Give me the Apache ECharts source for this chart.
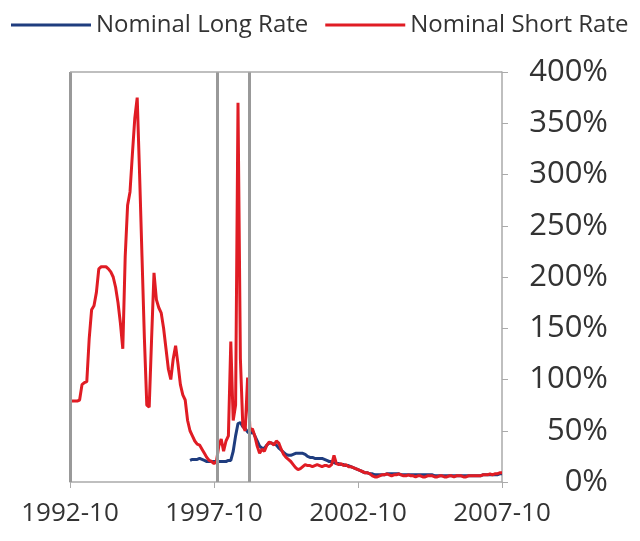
<!DOCTYPE html>
<html>
<head>
<meta charset="utf-8">
<script src="https://cdn.jsdelivr.net/npm/echarts@6/dist/echarts.min.js"></script>
<style>
html,body{margin:0;padding:0;background:#fff;}
#chart{width:640px;height:541px;}
</style>
</head>
<body>
<div id="chart"></div>
<script>
// Monthly data, first month = 1992-10, last = 2007-10 (index 0..180)
var startYear = 1992, startMonth = 10;
var tickMonths = [0, 60, 120, 180];
var eventMonths = [0, 61.3, 74.5];

var shortRate = [
  79,79,79,79,80, 95,97,98, 140,168,172,185,208,
  210,210,210,208,205, 200,190,175,155,130,
  220,270,283,320,355,375, 300,220,140,75,73,
  140,204,178,170,165, 150,130,110,100,120,133,
  115,95,85,80, 60,50,45,40,37,36,
  32,28,24,21,20,18,20, 35,42,30,40,
  45,137,60,75,370,120,55,50,102,50,
  52,45,35,28,32,30,36,39,38,36,40,38,32,27,24,22,20,17,14,12,
  13,15,17,16,16,15,16,17,16,15,16,16,15,17,26,18,17,18,16,17,
  15,15,14,13,12,11,10,9,9,8,6,5,5,6,7,
  7,8,7,6,7,7,8,7,6,6, 7,6,6,5,6,6,5,5,6,6,
  6,5,5,6,6,5,5,6,6,5, 6,6,6,5,5,6,6,6,6,6,
  6,7,7,7,8,7,8,8,9,9
];

var longRate = [
  null,null,null,null,null,null,null,null,null,null,
  null,null,null,null,null,null,null,null,null,null,
  null,null,null,null,null,null,null,null,null,null,
  null,null,null,null,null,null,null,null,null,null,
  null,null,null,null,null,null,null,null,null,null,
  21,22,22,22,23,22,21,20,20,20,20,20,20,20,20,20,21,21,30,45,57,58,54,52,49,47,
  50,45,40,35,33,33,36,38,38,37,36,33,31,29,27,26,26,27,28,28,
  28,28,27,25,24,24,23,23,23,23,22,21,20,20,19,18,18,17,17,16,
  16,15,14,13,12,11,10,9,9,8,8,7,7,7,7,
  7,8,8,8,8,8,8,7,7,7, 7,7,7,7,7,7,7,7,7,7,
  7,6,6,6,6,6,6,6,6,6, 6,6,6,6,6,6,6,6,6,6,
  6,7,7,7,7,7,7,7,8,8
];

function toPairs(arr){
  var out = [];
  for (var i = 0; i < arr.length; i++) out.push([i, arr[i]]);
  return out;
}
function monthLabel(idx){
  var total = startYear * 12 + (startMonth - 1) + Math.round(idx);
  var y = Math.floor(total / 12), m = total % 12 + 1;
  return y + '-' + (m < 10 ? '0' + m : m);
}

var FONT = 'Open Sans';
var BLUE = '#1f3d7f', RED = '#e01c24';
var chart = echarts.init(document.getElementById('chart'), null, {renderer: 'canvas'});
chart.setOption({
  animation: false,
  backgroundColor: '#fff',
  textStyle: {fontFamily: FONT},
  legend: {
    top: 8, left: 6,
    itemWidth: 80, itemHeight: 3, itemGap: 17,
    icon: 'rect',
    textStyle: {fontFamily: FONT, fontSize: 24, color: '#333'},
    data: [
      {name: 'Nominal Long Rate', itemStyle: {color: BLUE}},
      {name: 'Nominal Short Rate', itemStyle: {color: RED}}
    ]
  },
  grid: {
    left: 70, right: 138, top: 72, bottom: 59,
    show: false
  },
  xAxis: {
    type: 'value', min: 0, max: 180, interval: 60,
    axisLine: {show: true, onZero: false, lineStyle: {color: '#aaa', width: 1.5}},
    axisTick: {show: true, length: 6, lineStyle: {color: '#aaa'}},
    splitLine: {show: false},
    axisLabel: {
      fontFamily: FONT, fontSize: 26, color: '#333', margin: 19,
      formatter: function(v){ return tickMonths.indexOf(v) >= 0 ? monthLabel(v) : ''; }
    }
  },
  yAxis: {
    type: 'value', position: 'right', min: 0, max: 400, interval: 50,
    axisLine: {show: true, onZero: false, lineStyle: {color: '#aaa', width: 1.5}},
    axisTick: {show: true, length: 6, lineStyle: {color: '#aaa'}},
    splitLine: {show: false},
    axisLabel: {fontFamily: FONT, fontSize: 31, color: '#333', margin: 106, align: 'right', formatter: '{value}%'}
  },
  series: [
    {
      name: 'Nominal Long Rate', type: 'line', symbol: 'none',
      data: toPairs(longRate),
      lineStyle: {color: BLUE, width: 3},
      itemStyle: {color: BLUE},
      markLine: {
        silent: true, symbol: 'none', label: {show: false},
        lineStyle: {color: '#999', width: 3, type: 'solid'},
        data: eventMonths.map(function(m){ return {xAxis: m}; })
      },
      z: 2
    },
    {
      name: 'Nominal Short Rate', type: 'line', symbol: 'none',
      data: toPairs(shortRate),
      lineStyle: {color: RED, width: 3},
      itemStyle: {color: RED},
      markLine: {
        silent: true, symbol: 'none', label: {show: false},
        lineStyle: {color: '#aaa', width: 1.5, type: 'solid'},
        data: [[{coord: [0, 400]}, {coord: [180, 400]}]]
      },
      z: 3
    }
  ]
});
</script>
</body>
</html>
